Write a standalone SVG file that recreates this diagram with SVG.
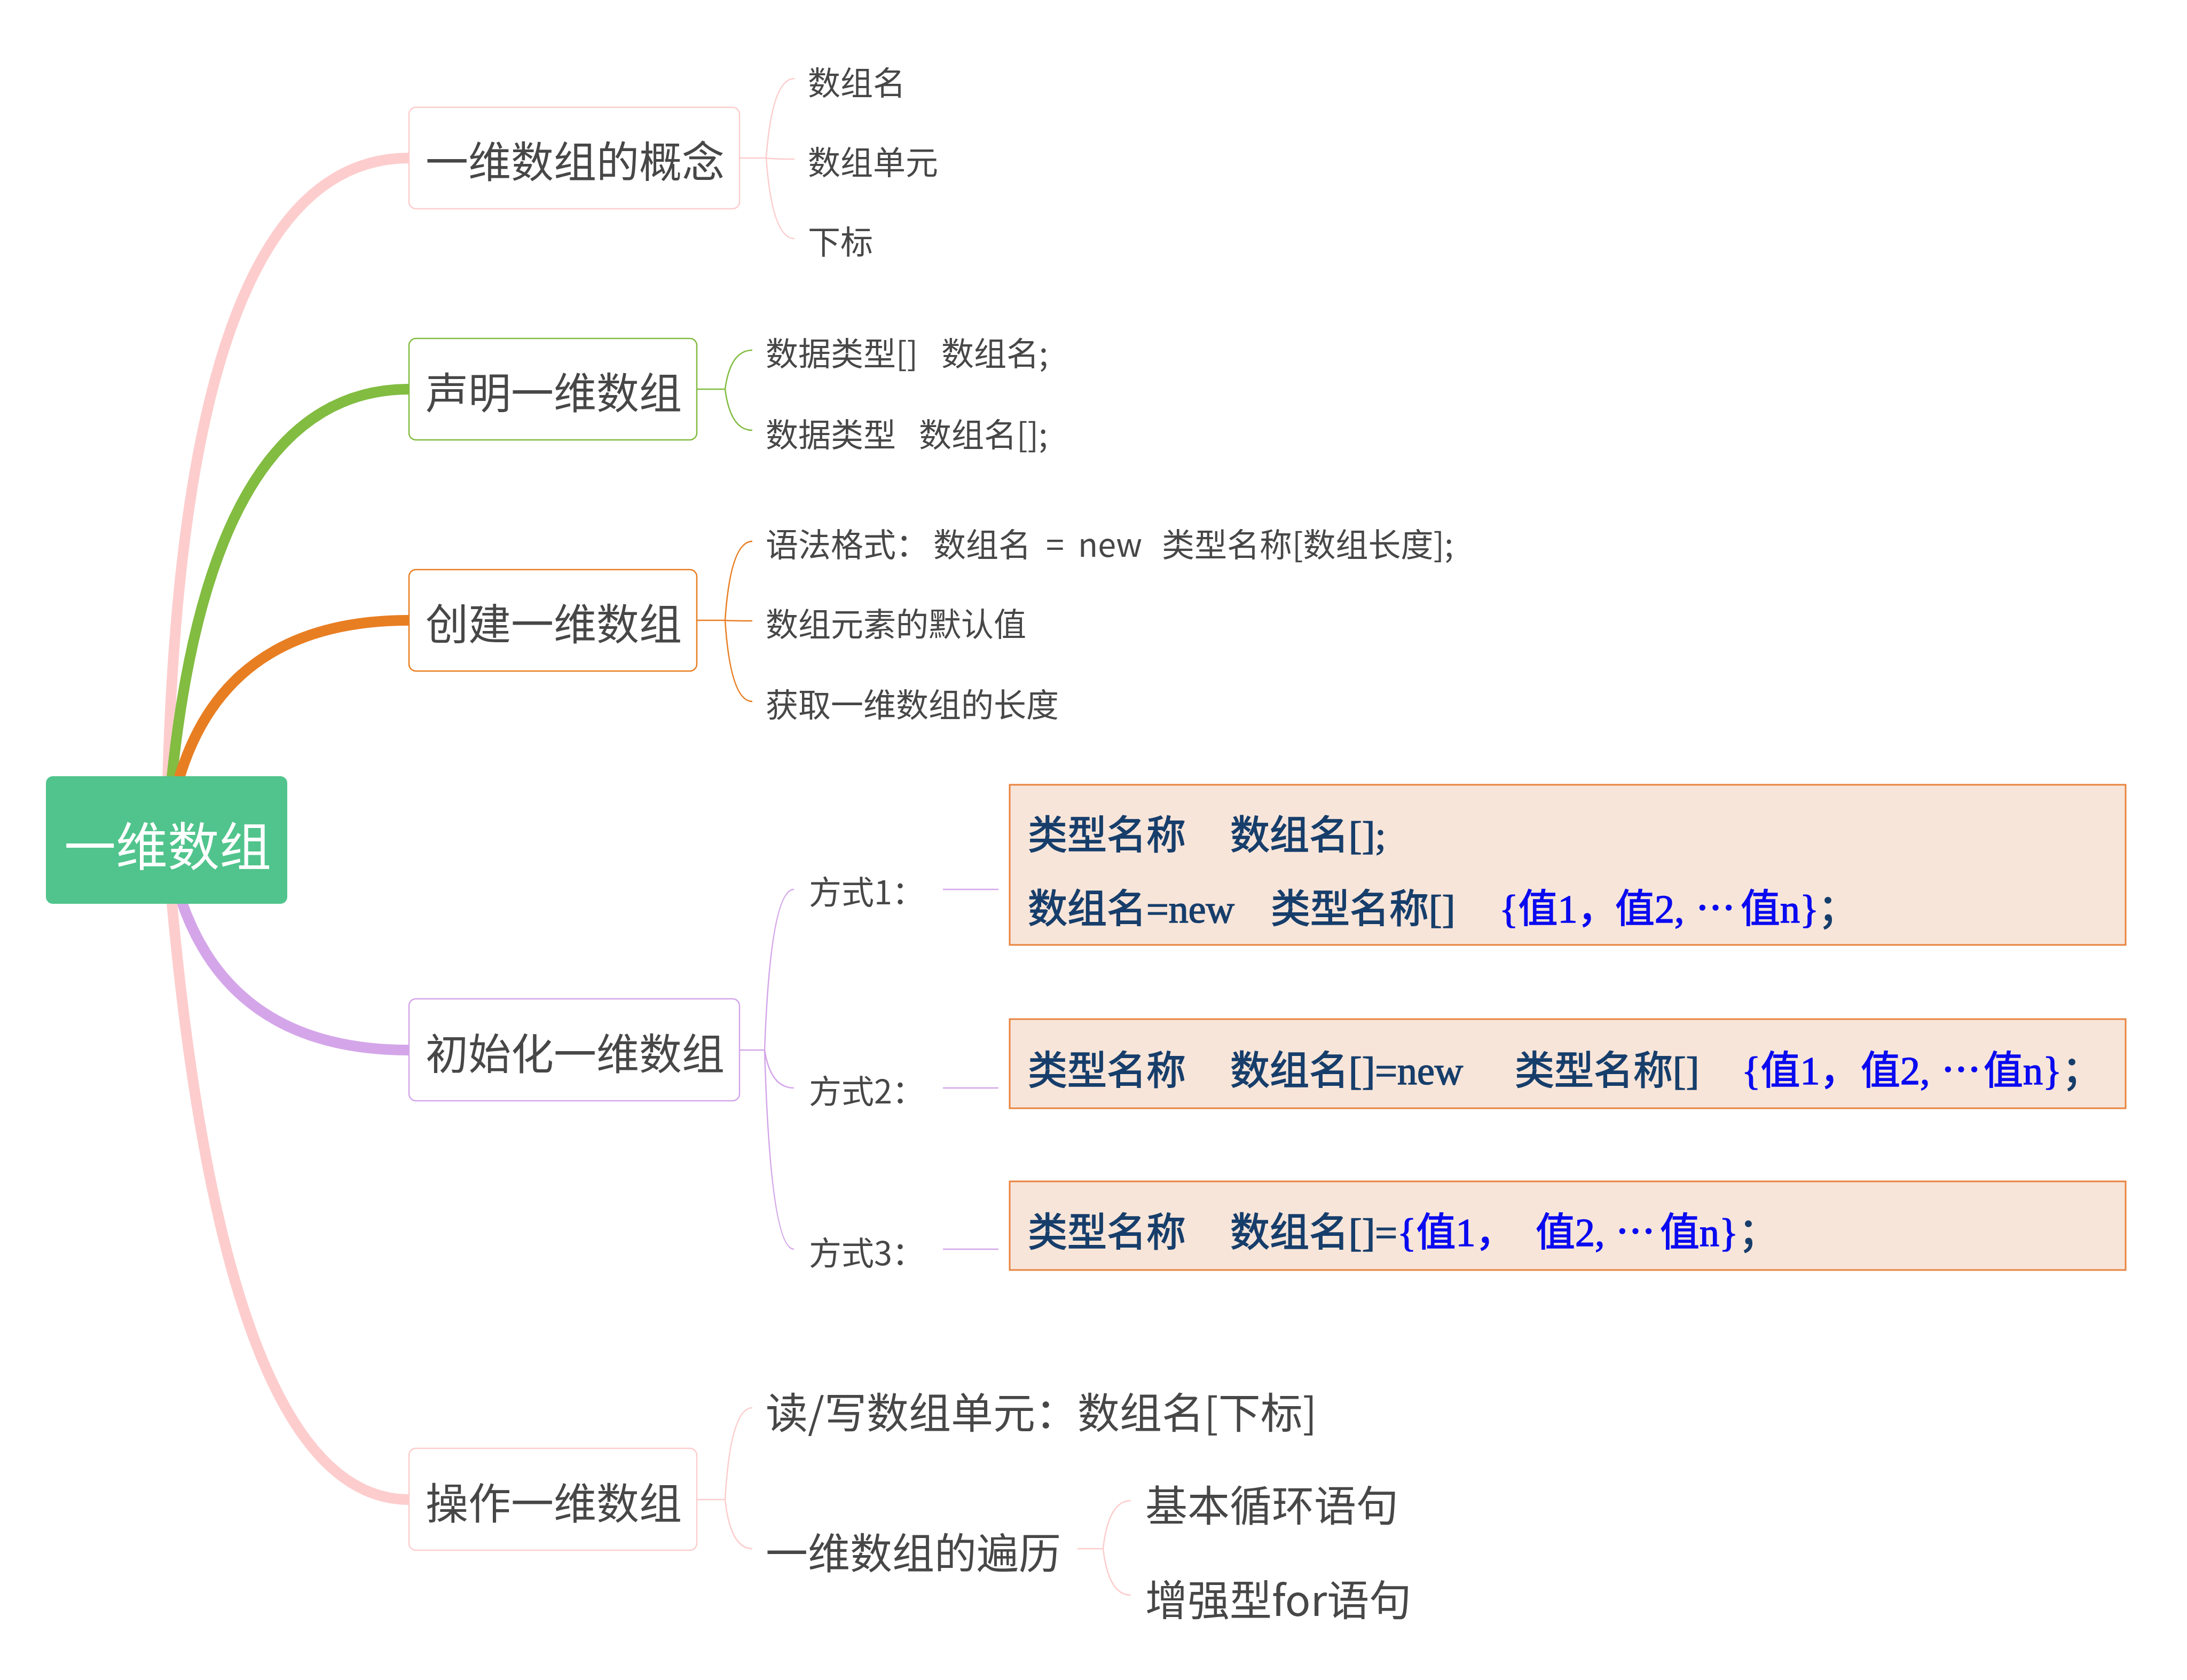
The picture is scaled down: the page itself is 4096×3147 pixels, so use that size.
<svg xmlns="http://www.w3.org/2000/svg" width="4096" height="3147" viewBox="0 0 4096 3147">
<style>
text{font-family:"Noto Sans CJK SC","Noto Sans",sans-serif;fill:#474747;dominant-baseline:central}
.t1{font-size:80px}
.t2{font-size:61px}
.t3{font-size:79px}
.root{font-size:97px;fill:#ffffff}
.box{fill:#ffffff;stroke-width:2.5}
.main{fill:none;stroke-width:20;stroke-linecap:butt}
.thin{fill:none;stroke-width:2.5}
.img{fill:#F8E5D9;stroke:#E8843E;stroke-width:3}
.code{font-family:"Liberation Serif","Noto Sans CJK SC",serif;font-size:74px;font-weight:normal;fill:#173E6B;stroke:#173E6B;stroke-width:1.6}
.blue{fill:#0A0AF0;stroke:#0A0AF0}
.pink{stroke:#FDCDCD}
.green{stroke:#82BC41}
.orange{stroke:#E87E22}
.purple{stroke:#D4A6E9}
</style>
<rect width="4096" height="3147" fill="#ffffff"/>
<g id="connectors">
  <path class="main pink" d="M312 1573 Q326 296 766 296"/>
  <path class="main green" d="M312 1573 Q369 729 766 729"/>
  <path class="main orange" d="M312 1573 Q363 1162 766 1162"/>
  <path class="main purple" d="M312 1573 Q374 1967 766 1967"/>
  <path class="main pink" d="M312 1573 Q407 2809 766 2809"/>
  <path class="thin pink" d="M1385 296 H1435 M1435 296 Q1446 147 1488 147 M1435 296 Q1446 298 1488 298 M1435 296 Q1446 447 1488 447"/>
  <path class="thin green" d="M1305 729 H1358 M1358 729 Q1368 656 1409 656 M1358 729 Q1368 806 1409 806"/>
  <path class="thin orange" d="M1305 1162 H1358 M1358 1162 Q1368 1014 1409 1014 M1358 1162 Q1368 1163 1409 1163 M1358 1162 Q1368 1314 1409 1314"/>
  <path class="thin purple" d="M1385 1967 H1432 M1432 1967 Q1443 1666 1487 1666 M1432 1967 Q1443 2038 1487 2038 M1432 1967 Q1443 2340 1487 2340"/>
  <path class="thin purple" d="M1766 1666 H1870 M1766 2038 H1870 M1766 2340 H1870"/>
  <path class="thin pink" d="M1305 2809 H1358 M1358 2809 Q1368 2637 1409 2637 M1358 2809 Q1368 2901 1409 2901"/>
  <path class="thin pink" d="M2018 2901 H2066 M2066 2901 Q2076 2811 2118 2811 M2066 2901 Q2076 2988 2118 2988"/>
</g>
<g id="root">
  <rect x="86" y="1454" width="452" height="239" rx="13" fill="#50C48C"/>
  <text class="root" x="120" y="1578">一维数组</text>
</g>
<g id="n1">
  <rect class="box pink" x="766" y="201" width="619" height="190" rx="13"/>
  <text class="t1" x="797" y="297">一维数组的概念</text>
</g>
<g id="n1a"><text class="t2" x="1513" y="151">数组名</text></g>
<g id="n1b"><text class="t2" x="1513" y="300">数组单元</text></g>
<g id="n1c"><text class="t2" x="1513" y="449">下标</text></g>
<g id="n2">
  <rect class="box green" x="766" y="634" width="539" height="190" rx="13"/>
  <text class="t1" x="797" y="730">声明一维数组</text>
</g>
<g id="n2a"><text class="t2" x="1434" y="658">数据类型[]<tspan x="1763">数组名;</tspan></text></g>
<g id="n2b"><text class="t2" x="1434" y="810">数据类型<tspan x="1721">数组名[];</tspan></text></g>
<g id="n3">
  <rect class="box orange" x="766" y="1067" width="539" height="190" rx="13"/>
  <text class="t1" x="797" y="1163">创建一维数组</text>
</g>
<g id="n3a"><text class="t2" x="1434" y="1016">语法格式：<tspan x="1748">数组名</tspan><tspan x="1959">=</tspan><tspan x="2019">new</tspan><tspan x="2176">类型名称[数组长度];</tspan></text></g>
<g id="n3b"><text class="t2" x="1434" y="1165">数组元素的默认值</text></g>
<g id="n3c"><text class="t2" x="1434" y="1316">获取一维数组的长度</text></g>
<g id="n4">
  <rect class="box purple" x="766" y="1871" width="619" height="191" rx="13"/>
  <text class="t1" x="797" y="1968">初始化一维数组</text>
</g>
<g id="n4a">
  <text class="t2" x="1515" y="1667">方式1：</text>
  <rect class="img" x="1891" y="1470" width="2090" height="300"/>
  <text class="code" x="1925" y="1565">类型名称<tspan x="2304">数组名[];</tspan></text>
  <text class="code" x="1925" y="1703">数组名=new<tspan x="2380">类型名称[]</tspan><tspan x="2808" class="blue">{值1，</tspan><tspan x="3025" class="blue">值2,</tspan><tspan x="3176" class="blue">⋯</tspan><tspan x="3260" class="blue">值n}</tspan><tspan x="3405">；</tspan></text>
</g>
<g id="n4b">
  <text class="t2" x="1515" y="2040">方式2：</text>
  <rect class="img" x="1891" y="1909" width="2090" height="167"/>
  <text class="code" x="1925" y="2006">类型名称<tspan x="2304">数组名[]=new</tspan><tspan x="2837">类型名称[]</tspan><tspan x="3262" class="blue">{值1，</tspan><tspan x="3485" class="blue">值2,</tspan><tspan x="3636" class="blue">⋯</tspan><tspan x="3715" class="blue">值n}</tspan><tspan x="3862">；</tspan></text>
</g>
<g id="n4c">
  <text class="t2" x="1515" y="2343">方式3：</text>
  <rect class="img" x="1891" y="2213" width="2090" height="166"/>
  <text class="code" x="1925" y="2309">类型名称<tspan x="2304">数组名[]=</tspan><tspan class="blue">{值1，</tspan><tspan x="2876" class="blue">值2,</tspan><tspan x="3026" class="blue">⋯</tspan><tspan x="3109" class="blue">值n}</tspan><tspan x="3256">；</tspan></text>
</g>
<g id="n5">
  <rect class="box pink" x="766" y="2713" width="539" height="191" rx="13"/>
  <text class="t1" x="797" y="2810">操作一维数组</text>
</g>
<g id="n5a"><text class="t3" x="1434" y="2641">读/写数组单元：数组名[下标]</text></g>
<g id="n5b"><text class="t3" x="1434" y="2904">一维数组的遍历</text></g>
<g id="n5b1"><text class="t3" x="2145" y="2815">基本循环语句</text></g>
<g id="n5b2"><text class="t3" x="2145" y="2992">增强型for语句</text></g>
</svg>
